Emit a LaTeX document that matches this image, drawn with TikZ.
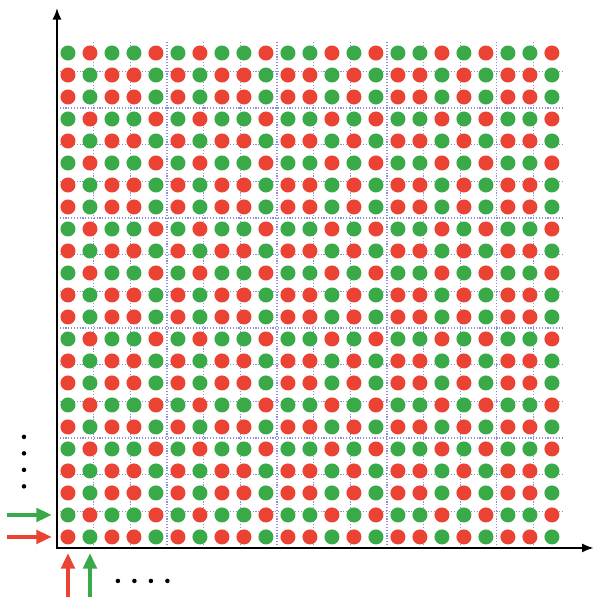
\documentclass[tikz,border=0pt]{standalone}
\usetikzlibrary{arrows.meta}

\definecolor{dotred}{RGB}{234,67,52}
\definecolor{dotgreen}{RGB}{58,170,72}
\definecolor{gridblue}{RGB}{140,140,225}
% one bit per row / column: 1 = red class, 0 = green class
\newcommand{\siteword}{1,0,1,1,0,1,0,1,1,0,1,1,0,1,0,1,1,0,1,0,1,1,0}

\begin{document}
\begin{tikzpicture}[x=0.6cm,y=0.6cm,
    site/.style={circle, inner sep=0pt, minimum size=0.41cm},
    cellgrid/.style={gridblue, line width=0.9pt, dash pattern=on 0.9pt off 1.3pt},
    axisline/.style={line width=1.5pt, {Latex[length=9pt,width=7pt]}-{Latex[length=9pt,width=7pt]}},
    feed/.style={line width=2.8pt, -{Triangle[length=12pt,width=10.5pt]}, shorten >=0.23cm},
    ellip/.style={circle, fill=black, inner sep=0pt, minimum size=3.5pt}]

  \useasboundingbox (-2.59,-2.23) rectangle (24.45,24.91);

  % Dotted cell boundaries
  \draw[cellgrid] (0,0) grid (23,23);

  % Sites: red where row and column bits agree, green otherwise
  \foreach \a [count=\i from 0] in \siteword {
    \foreach \b [count=\j from 0] in \siteword {
      \ifnum\a=\b\relax \def\sitecol{dotred}\else \def\sitecol{dotgreen}\fi
      \node[site, fill=\sitecol] (c-\i-\j) at (\i+0.5, \j+0.5) {};
    }
  }

  % Axes
  \coordinate (O) at (0, 0);
  \coordinate (ytip) at (0, 24.55);
  \coordinate (xtip) at (24.4, 0);
  \draw[axisline] (ytip) -- (O) -- (xtip);

  % Inputs along the first two rows and columns
  \coordinate (inRow0) at (-2.27, 0.5);
  \coordinate (inRow1) at (-2.27, 1.5);
  \coordinate (inCol0) at (0.5, -2.3);
  \coordinate (inCol1) at (1.5, -2.3);
  \draw[feed, dotred] (inRow0) -- (c-0-0.west);
  \draw[feed, dotgreen] (inRow1) -- (c-0-1.west);
  \draw[feed, dotred] (inCol0) -- (c-0-0.south);
  \draw[feed, dotgreen] (inCol1) -- (c-1-0.south);

  % Continuation dots
  \foreach \yv [count=\k] in {2.8, 3.55, 4.3, 5.05}{
    \node[ellip] (vdot\k) at (-1.5, \yv) {};
  }
  \foreach \xv [count=\k] in {2.77, 3.52, 4.27, 5.02}{
    \node[ellip] (hdot\k) at (\xv, -1.5) {};
  }

\end{tikzpicture}
\end{document}
